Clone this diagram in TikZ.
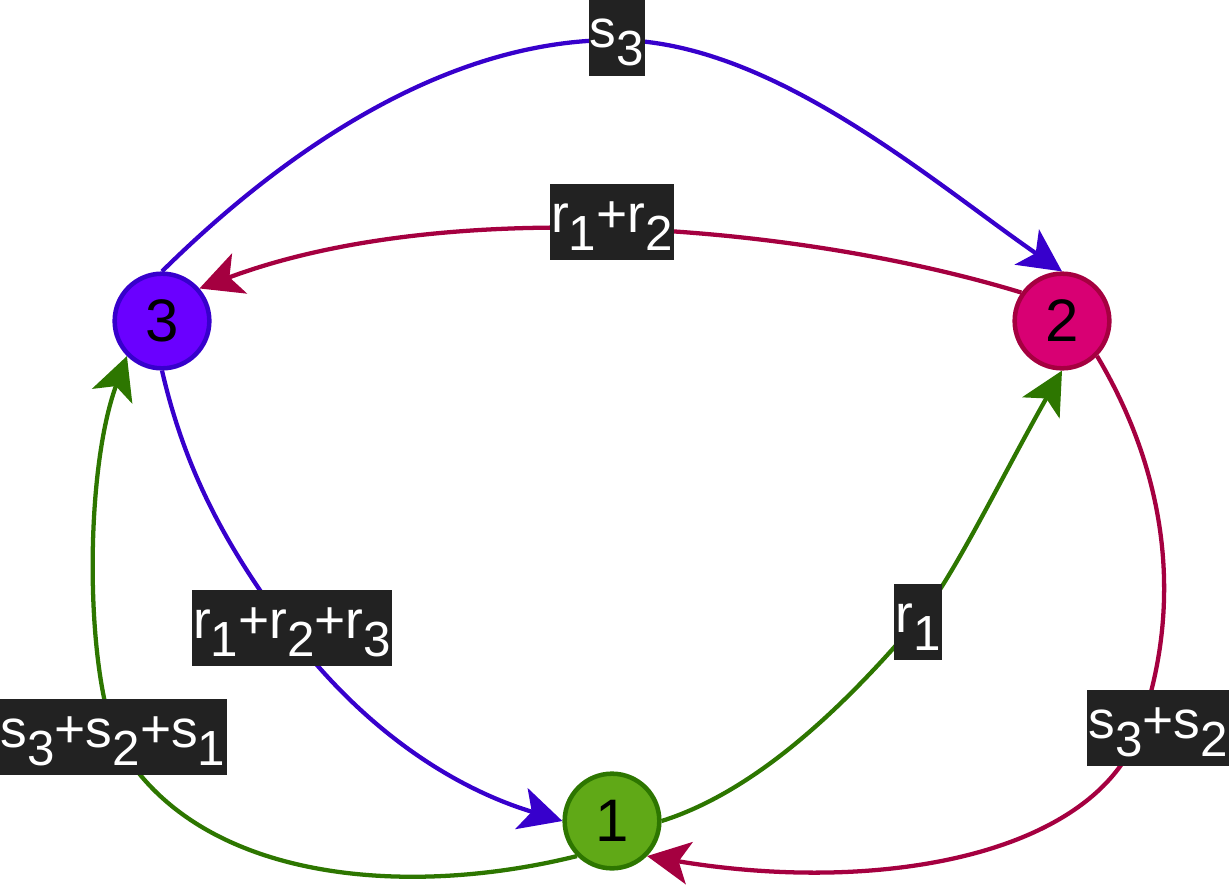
\documentclass[tikz,border=0pt]{standalone}
\usepackage{fontspec}
\setmainfont{Liberation Sans}
\usepackage{tikz}
\usetikzlibrary{arrows.meta}
\definecolor{violetfill}{HTML}{6A00FF}
\definecolor{blueline}{HTML}{3700CC}
\definecolor{pinkfill}{HTML}{D80073}
\definecolor{redline}{HTML}{A50040}
\definecolor{greenfill}{HTML}{60A917}
\definecolor{greenline}{HTML}{2D7600}
\definecolor{labelbg}{HTML}{222222}
\newcommand{\lsub}[1]{\raisebox{-13.5pt}{\fontsize{37}{37}\selectfont #1}}

\begin{document}
\begin{tikzpicture}[x=0.75pt, y=-0.75pt,
  state/.style={circle, line width=3.4pt, minimum size=71pt, inner sep=0pt,
                font=\fontsize{45}{45}\selectfont},
  weight/.style={fill=labelbg, text=white, inner xsep=1pt, inner ysep=0pt,
                 text height=36pt, text depth=21pt,
                 font=\fontsize{40}{40}\selectfont},
  link/.style={line width=3.2pt, -{Stealth[length=32pt, width=32pt, inset=8pt]}}
]
\useasboundingbox (0,0) rectangle (1230,885);

\node[state, fill=violetfill, draw=blueline] (n3) at (162,321)  {3};
\node[state, fill=pinkfill,   draw=redline]  (n2) at (1062,321) {2};
\node[state, fill=greenfill,  draw=greenline] (n1) at (612,821) {1};

\draw[link, blueline] (n3.north) .. controls (290,145) and (450,40) .. (615,40)
  .. controls (770,40) and (930,180) .. (n2.north);
\draw[link, redline] (n2.145) .. controls (800,225) and (450,195) .. (n3.41);
\draw[link, redline] (n2.-45) .. controls (1165,470) and (1185,600) .. (1140,728)
  .. controls (1097,855) and (880,895) .. (n1.-45);
\draw[link, greenline] (n1.-135) .. controls (400,900) and (190,880) .. (115,737)
  .. controls (85,660) and (85,470) .. (n3.225);
\draw[link, blueline] (n3.south) .. controls (185,470) and (225,545) .. (287,628)
  .. controls (368,736) and (460,790) .. (n1.west);
\draw[link, greenline] (n1.east) .. controls (760,790) and (850,700) .. (918,620)
  .. controls (952,580) and (1000,480) .. (n2.south);

\node[weight] (w32)  at (617,37.5) {s\lsub{3}};
\node[weight] (w23)  at (612,222)  {r\lsub{1}+r\lsub{2}};
\node[weight] (w31)  at (292,628)  {r\lsub{1}+r\lsub{2}+r\lsub{3}};
\node[weight] (w13)  at (113,737)  {s\lsub{3}+s\lsub{2}+s\lsub{1}};
\node[weight] (w12)  at (918,622)  {r\lsub{1}};
\node[weight] (w21)  at (1158,728) {s\lsub{3}+s\lsub{2}};
\end{tikzpicture}
\end{document}
